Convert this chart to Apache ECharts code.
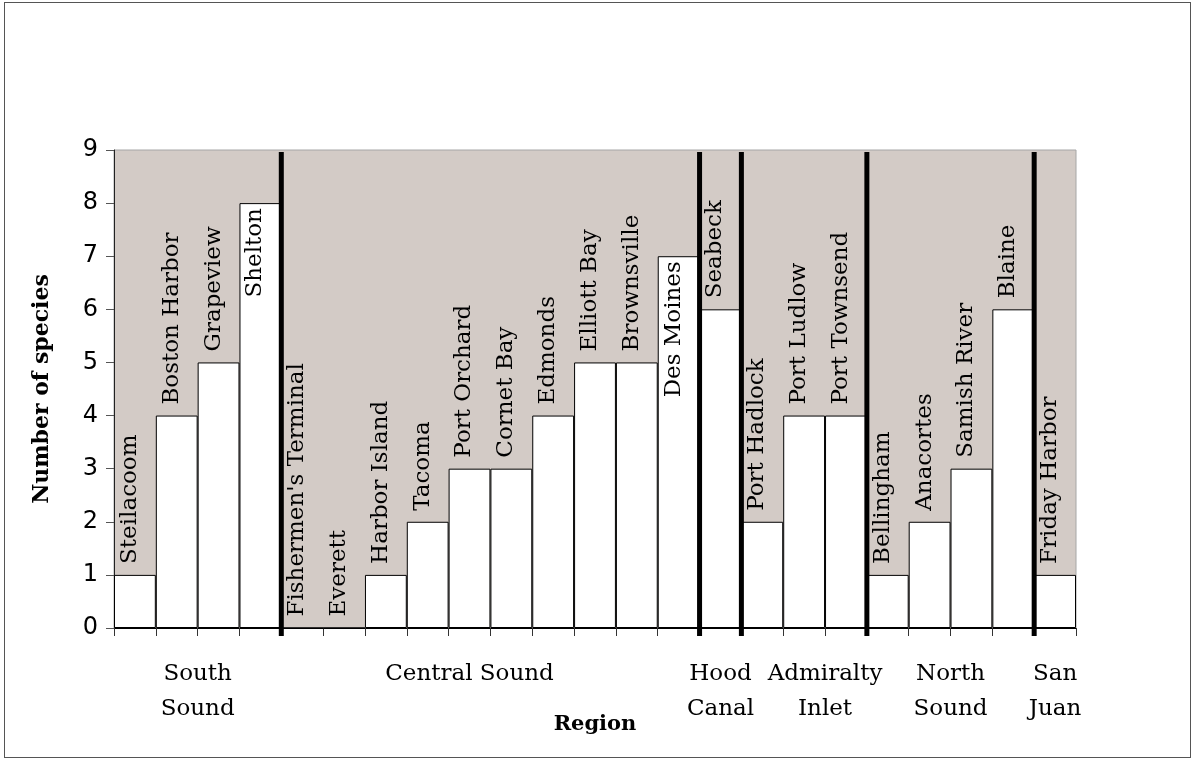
<!DOCTYPE html>
<html>
<head>
<meta charset="utf-8">
<script src="https://cdn.jsdelivr.net/npm/echarts@6/dist/echarts.min.js"></script>
<style>
  html, body { margin: 0; padding: 0; background: #fff; }
  #chart { width: 1194px; height: 759px; }
  .frame { position: absolute; left: 4px; top: 2px; width: 1185px; height: 754px; border: 1px solid #555; pointer-events: none; }
</style>
</head>
<body>
<div id="chart"></div>
<div class="frame"></div>
<script>
// sampling sites, in order along the x axis
const sites = [
  "Steilacoom", "Boston Harbor", "Grapeview", "Shelton",
  "Fishermen's Terminal", "Everett", "Harbor Island", "Tacoma", "Port Orchard",
  "Cornet Bay", "Edmonds", "Elliott Bay", "Brownsville", "Des Moines",
  "Seabeck",
  "Port Hadlock", "Port Ludlow", "Port Townsend",
  "Bellingham", "Anacortes", "Samish River", "Blaine",
  "Friday Harbor"
];
const species = [1, 4, 5, 8, 0, 0, 1, 2, 3, 3, 4, 5, 5, 7, 6, 2, 4, 4, 1, 2, 3, 6, 1];

// region boundaries (in bar widths from the left) and region label positions
const dividers = [4, 14, 15, 18, 22];
const regionAt = [2, 8.5, 14.5, 17, 20, 22.5];
const regionNames = ["South\nSound", "Central Sound", "Hood\nCanal", "Admiralty\nInlet", "North\nSound", "San\nJuan"];

const yMax = 9;
const labelFont = "23px 'DejaVu Serif'";
const plotH = 759 - 150 - 131;

// labels go above the bar unless they would run out of the plot
const ctx = document.createElement("canvas").getContext("2d");
ctx.font = labelFont;
const barData = species.map((v, i) => {
  const w = ctx.measureText(sites[i]).width;
  const room = (yMax - v) * plotH / yMax;
  const inside = w + 12 > room;
  return {
    value: v,
    label: inside
      ? { position: "insideTop", align: "right", distance: 5 }
      : { position: "top", align: "left", distance: 11 }
  };
});

const chart = echarts.init(document.getElementById("chart"));
chart.setOption({
  animation: false,
  grid: {
    left: 114, right: 118, top: 150, bottom: 131,
    show: true, backgroundColor: "#d3cbc6", borderColor: "#a6a6a6", borderWidth: 1
  },
  xAxis: [
    {
      type: "category",
      data: sites,
      name: "Region",
      nameLocation: "middle",
      nameGap: 86,
      nameTextStyle: { fontFamily: "DejaVu Serif", fontWeight: "bold", fontSize: 21, color: "#000" },
      axisLine: { lineStyle: { color: "#000", width: 1 } },
      axisTick: { show: true, interval: 0, length: 8, lineStyle: { color: "#333" } },
      axisLabel: { show: false, interval: 0 }
    },
    {
      type: "value",
      position: "bottom",
      min: 0, max: sites.length, interval: 0.5,
      axisLine: { show: false }, axisTick: { show: false }, splitLine: { show: false },
      axisLabel: {
        margin: 29,
        fontFamily: "DejaVu Serif", fontSize: 23, color: "#000",
        lineHeight: 35, verticalAlign: "top",
        formatter: v => {
          const k = regionAt.indexOf(v);
          return k >= 0 ? regionNames[k] : "";
        }
      }
    }
  ],
  yAxis: {
    type: "value",
    min: 0, max: yMax, interval: 1,
    name: "Number of species",
    nameLocation: "middle",
    nameGap: 61,
    nameTextStyle: { fontFamily: "DejaVu Serif", fontWeight: "bold", fontSize: 22, color: "#000" },
    axisLine: { show: true, lineStyle: { color: "#222" } },
    axisTick: { show: true, length: 8, lineStyle: { color: "#555" } },
    splitLine: { show: false },
    axisLabel: { fontFamily: "DejaVu Sans", fontSize: 24, color: "#000", margin: 16 }
  },
  series: [
    {
      type: "bar",
      data: barData,
      barCategoryGap: 0,
      itemStyle: { color: "#fff", borderColor: "#000", borderWidth: 1 },
      label: {
        show: true,
        rotate: 90,
        verticalAlign: "middle",
        offset: [0, -5],
        fontFamily: "DejaVu Serif",
        fontSize: 23,
        color: "#000",
        formatter: p => p.name
      },
      z: 2
    },
    {
      type: "custom",
      xAxisIndex: 1,
      data: dividers.map(d => [d, 0]),
      encode: { x: 0, y: 1 },
      renderItem: (params, api) => {
        const top = api.coord([api.value(0), yMax]);
        const bottom = api.coord([api.value(0), 0]);
        return {
          type: "line",
          shape: { x1: top[0], y1: top[1] + 2, x2: bottom[0], y2: bottom[1] + 8 },
          style: { stroke: "#000", lineWidth: 5 }
        };
      },
      z: 5
    }
  ]
});
</script>
</body>
</html>
